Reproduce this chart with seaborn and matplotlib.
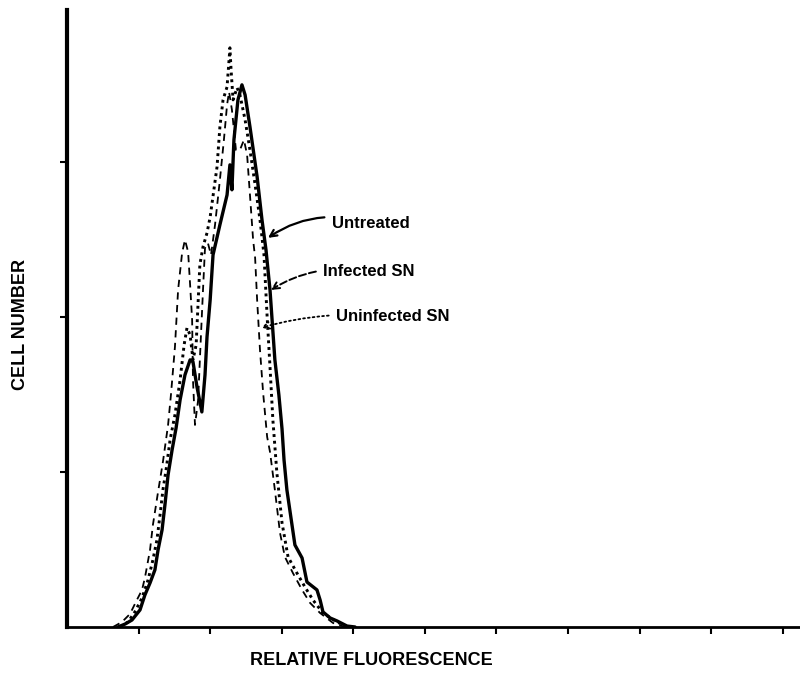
import matplotlib
matplotlib.use("Agg")
import matplotlib.pyplot as plt
import pandas as pd
import seaborn as sns

# Histogram traces (x = channel 0-256, y = cell count)
untreated_x = [17.8, 20.3, 22.7, 25.5, 27.2, 29.0, 30.7, 31.8, 33.2, 34.2, 35.3, 36.7, 38.1, 39.5,
               41.2, 43.0, 44.0, 45.4, 47.1, 48.2, 48.9, 50.0, 51.0, 53.4, 55.9, 56.9, 57.6, 58.3,
               59.7, 61.1, 62.2, 63.9, 66.4, 68.1, 69.5, 70.9, 72.6, 74.0, 75.1, 75.8, 76.8, 79.6,
               82.1, 83.8, 87.3, 88.4, 89.4, 91.9, 94.3, 97.8, 100.6]
untreated_y = [0, 1.9, 4.5, 11.0, 20.6, 28.4, 36.8, 49.7, 62.6, 78.7, 98.1, 114.2, 128.4, 146.5,
               162.6, 172.3, 171.0, 154.8, 138.7, 162.6, 187.1, 211.0, 240.0, 259.4, 278.7, 298.1,
               282.0, 314.2, 340.0, 349.7, 343.2, 322.6, 290.3, 262.6, 243.2, 217.4, 172.3, 149.7,
               127.7, 107.7, 88.4, 52.9, 44.5, 29.0, 23.9, 17.4, 9.7, 5.8, 3.9, 0.6, 0]

infected_x = [18.5, 21.3, 23.7, 26.2, 28.3, 30.0, 31.4, 32.5, 33.5, 34.6, 36.0, 37.7, 39.5, 40.9,
              41.9, 43.0, 44.0, 45.1, 46.4, 47.5, 48.9, 50.0, 52.4, 53.4, 54.5, 55.9, 56.6, 56.9,
              57.3, 58.0, 59.4, 60.4, 62.2, 63.9, 65.7, 67.4, 68.8, 69.9, 70.9, 71.9, 73.3, 75.1,
              77.2, 80.3, 83.1, 85.9, 89.4, 94.3, 98.1]
infected_y = [0, 3.2, 9.7, 18.7, 30.3, 43.2, 56.1, 72.3, 88.4, 101.3, 120.7, 136.8, 159.4, 181.9,
              192.9, 188.4, 172.3, 181.9, 233.6, 245.2, 254.2, 264.5, 296.8, 322.6, 340.0, 348.4,
              365.8, 373.6, 359.4, 340.0, 347.8, 343.2, 327.1, 307.7, 285.2, 262.6, 240.0, 200.0,
              167.7, 133.6, 99.4, 67.1, 45.2, 34.8, 25.8, 17.4, 9.0, 3.2, 0]

uninfected_x = [16.1, 19.2, 22.0, 24.4, 26.2, 27.2, 29.0, 30.0, 31.8, 33.5, 35.3, 36.3, 37.7, 38.8,
                40.2, 41.2, 42.3, 43.0, 43.7, 44.0, 44.7, 45.8, 46.4, 47.5, 48.2, 49.2, 50.3, 51.7,
                53.4, 54.8, 55.9, 56.6, 57.6, 59.0, 60.4, 61.8, 62.9, 63.9, 65.0, 65.7, 66.4, 67.4,
                68.5, 69.9, 70.9, 72.6, 74.4, 76.1, 78.9, 82.1, 84.9, 88.4, 92.9, 97.1]
uninfected_y = [0, 3.2, 8.4, 17.4, 23.9, 31.6, 49.7, 65.8, 87.1, 106.5, 130.3, 149.7, 180.7, 217.4,
                241.3, 249.7, 241.9, 220.6, 198.1, 159.4, 130.3, 146.5, 172.3, 217.4, 244.5, 247.7,
                240.0, 259.4, 288.4, 314.2, 336.8, 345.2, 333.6, 307.7, 307.7, 314.2, 304.5, 278.7,
                249.7, 238.1, 211.0, 178.7, 151.0, 122.6, 112.9, 88.4, 60.6, 45.2, 34.8, 23.9, 15.5,
                9.0, 2.6, 0]

x_ticks = [25, 50, 75, 100, 125, 150, 175, 200, 225, 250]
y_ticks = [100, 200, 300]

sns.set_style("white", {'text.color': 'black', 'axes.labelcolor': 'black'})
plt.rcParams['font.family'] = ['Liberation Sans', 'DejaVu Sans']

fig = plt.figure(figsize=(8, 6.77), dpi=100)
ax = fig.add_axes([0.08375, 0.0739, 0.91625, 0.9114])

sns.lineplot(x=untreated_x, y=untreated_y, ax=ax, color='black', linewidth=2.4,
             sort=False, estimator=None)
sns.lineplot(x=infected_x, y=infected_y, ax=ax, color='black', linewidth=2.1,
             linestyle=(0, (1, 1.3)), sort=False, estimator=None)
sns.lineplot(x=uninfected_x, y=uninfected_y, ax=ax, color='black', linewidth=1.3,
             linestyle=(0, (4, 3)), sort=False, estimator=None)

ax.set_xlim(0, 256)
ax.set_ylim(0, 398)
ax.set_xticks(x_ticks)
ax.set_yticks(y_ticks)
ax.set_xticklabels([])
ax.set_yticklabels([])
ax.tick_params(axis='both', direction='out', length=5, width=1.5, color='black',
               bottom=True, left=True)

for side in ['top', 'right']:
    ax.spines[side].set_visible(False)
ax.spines['left'].set_linewidth(3)
ax.spines['bottom'].set_linewidth(2)
ax.spines['left'].set_color('black')
ax.spines['bottom'].set_color('black')

ax.set_xlabel('RELATIVE FLUORESCENCE', fontsize=13, fontweight='bold', va='center',
              color='black')
ax.set_ylabel('CELL NUMBER', fontsize=13, fontweight='bold', va='center', color='black')
ax.xaxis.set_label_coords(0.415, -0.0545)
ax.yaxis.set_label_coords(-0.064, 0.49)

# curve labels with arrows
ax.annotate('Untreated', xy=(70.2, 251), xytext=(92.5, 260), fontsize=12, fontweight='bold',
            va='center', ha='left', color='black',
            arrowprops=dict(arrowstyle='->', color='black', lw=1.6,
                            connectionstyle='arc3,rad=0.25', shrinkA=3, shrinkB=0))
ax.annotate('Infected SN', xy=(71.2, 217.4), xytext=(89.5, 229), fontsize=12, fontweight='bold',
            va='center', ha='left', color='black',
            arrowprops=dict(arrowstyle='->', color='black', lw=1.4, linestyle='--',
                            connectionstyle='arc3,rad=0.2', shrinkA=3, shrinkB=0))
ax.annotate('Uninfected SN', xy=(67.8, 193), xytext=(94, 200), fontsize=12, fontweight='bold',
            va='center', ha='left', color='black',
            arrowprops=dict(arrowstyle='->', color='black', lw=1.3, linestyle=':',
                            connectionstyle='arc3,rad=0.1', shrinkA=3, shrinkB=0))

fig.savefig('out.png', dpi=100)
